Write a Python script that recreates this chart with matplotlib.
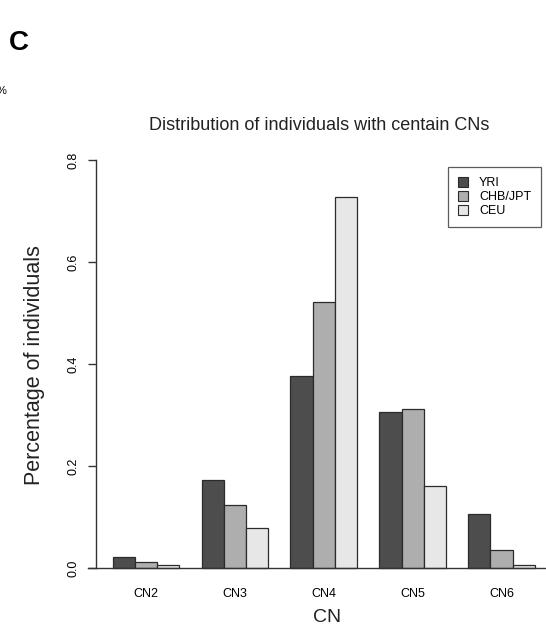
import numpy as np
import matplotlib
matplotlib.use('Agg')
import matplotlib.pyplot as plt
from matplotlib.patches import Patch

plt.rcParams['font.family'] = ['Liberation Sans', 'DejaVu Sans']

groups = ['CN2', 'CN3', 'CN4', 'CN5', 'CN6']
pops = ['YRI', 'CHB/JPT', 'CEU']
yri = [0.022, 0.173, 0.377, 0.306, 0.106]
chb = [0.012, 0.124, 0.522, 0.312, 0.035]
ceu = [0.006, 0.078, 0.728, 0.161, 0.006]
cols = ['#4d4d4d', '#aeaeae', '#e6e7e6']

fig = plt.figure(figsize=(5.46, 6.35), dpi=100)
W, H = 546.0, 635.0
# plot region in pixels (R style, 4% padding)
x0, x1 = 96.0, 551.6
y0, y1 = 584.3, 143.7
ax = fig.add_axes([x0/W, 1-y0/H, (x1-x0)/W, (y0-y1)/H])

series = [yri, chb, ceu]
for i, (vals, c) in enumerate(zip(series, cols)):
    xs = [1 + g*4 + i for g in range(len(groups))]
    ax.bar(xs, vals, width=1, align='edge', color=c, edgecolor='#2b2b2b', linewidth=0.9, zorder=2)

ax.set_xlim(0.24, 20.76)
ax.set_ylim(-0.032, 0.832)
for s in ax.spines.values():
    s.set_visible(False)

# baseline like abline(h=0)
ax.plot([-0.13, 21], [0, 0], color='#333333', lw=1.0, clip_on=False, zorder=3)
# y axis
ax.plot([0.24, 0.24], [0, 0.8], color='#333333', lw=1.0, clip_on=False)
ax.set_yticks([0, 0.2, 0.4, 0.6, 0.8])
ax.set_yticklabels(['0.0', '0.2', '0.4', '0.6', '0.8'], rotation=90, va='center', fontsize=9)
ax.tick_params(axis='y', length=6, width=1, color='#333333', pad=6)
ax.set_xticks([2.5 + 4*g for g in range(len(groups))])
ax.set_xticklabels(groups, fontsize=9)
ax.tick_params(axis='x', length=0, pad=3)

fig.text(319/W, 1-125/H, 'Distribution of individuals with centain CNs', ha='center', va='center', fontsize=13, color='#222222')
fig.text(327/W, 1-617/H, 'CN', ha='center', va='center', fontsize=14, color='#222222')
fig.text(35/W, 1-365/H, 'Percentage of individuals', ha='center', va='center', rotation=90, fontsize=15.5, color='#222222')
fig.text(9/W, 1-43/H, 'C', ha='left', va='center', fontsize=20, fontweight='bold')
fig.text(-3/W, 1-91/H, '%', ha='left', va='center', fontsize=8)

handles = [Patch(facecolor=c, edgecolor='#2b2b2b', linewidth=0.8) for c in cols]
leg = ax.legend(handles, pops, loc='upper right', bbox_to_anchor=((541-x0)/(x1-x0), (y0-167)/(y0-y1)),
                fontsize=9, frameon=True, fancybox=False, edgecolor='#333333',
                handlelength=0.8, handleheight=0.8, handletextpad=0.9, labelspacing=0.15, borderpad=0.8,
                borderaxespad=0)
leg.get_frame().set_linewidth(0.9)

fig.savefig('out.png', dpi=100)
